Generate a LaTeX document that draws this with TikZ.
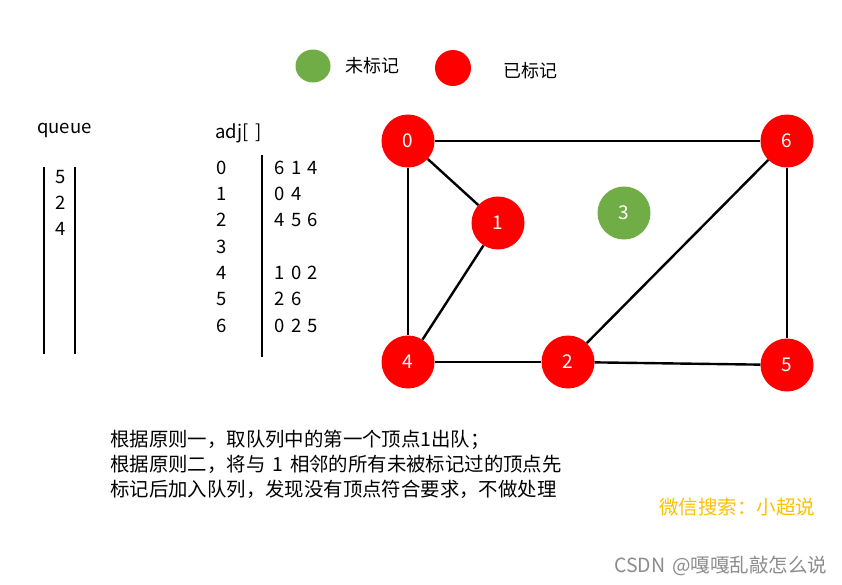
\documentclass[tikz,border=0pt]{standalone}
\usepackage{fontspec}
\usetikzlibrary{shapes.geometric}
\setmainfont{Noto Sans CJK SC}[WordSpace=1.6]
\definecolor{mred}{HTML}{FF0000}
\definecolor{mgreen}{HTML}{70AD47}
\definecolor{morange}{HTML}{FFC000}
\definecolor{mgray}{HTML}{8C8C8C}
\tikzset{
  vert/.style={circle,minimum size=53pt,inner sep=0pt,text=white,font=\fontsize{19}{20}\selectfont},
  redv/.style={vert,fill=mred},
  greenv/.style={vert,fill=mgreen},
  edge/.style={line width=2.4pt,black},
  bar/.style={line width=2.4pt,black},
  txt/.style={inner sep=0pt,anchor=west,font=\fontsize{18.5}{20}\selectfont},
}
\begin{document}
\begin{tikzpicture}[x=1pt,y=-1pt]
\useasboundingbox[fill=white] (0,0) rectangle (842,584);
% legend
\node[ellipse,fill=mgreen,minimum width=35pt,minimum height=33pt,inner sep=0pt] (lg) at (313,66) {};
\node[txt,font=\fontsize{18}{20}\selectfont] (lgt) at (345,66) {未标记};
\node[circle,fill=mred,minimum size=36pt,inner sep=0pt] (lr) at (453,68) {};
\node[txt,font=\fontsize{18}{20}\selectfont] (lrt) at (503,71) {已标记};
% queue
\node[txt] (ql) at (37,130) {queue};
\coordinate (qa1) at (44,167); \coordinate (qa2) at (44,354);
\coordinate (qb1) at (75,167); \coordinate (qb2) at (75,354);
\draw[bar] (qa1) -- (qa2);
\draw[bar] (qb1) -- (qb2);
\node[txt] (q1) at (55,177) {5};
\node[txt] (q2) at (55,203) {2};
\node[txt] (q3) at (55,229) {4};
% adj
\node[txt] (al) at (215,133) {adj[ ]};
\coordinate (av1) at (262,155); \coordinate (av2) at (262,357);
\draw[bar] (av1) -- (av2);
\foreach \i/\y/\t in {0/168/6 1 4,1/194/0 4,2/220/4 5 6,3/247/,4/273/1 0 2,5/299/2 6,6/326/0 2 5}{
  \node[txt] (ai\i) at (216,\y) {\i};
  \node[txt] (aj\i) at (274,\y) {\t};
}
% graph
\node[redv] (n0) at (408,141) {0};
\node[redv] (n6) at (787,141) {6};
\node[redv] (n1) at (498,223) {1};
\node[greenv] (n3) at (624,213) {3};
\node[redv] (n4) at (408,362) {4};
\node[redv] (n2) at (568,362) {2};
\node[redv] (n5) at (787,365) {5};
\draw[edge] (n0) -- (n6);
\draw[edge] (n0) -- (n1);
\draw[edge] (n0) -- (n4);
\draw[edge] (n1) -- (n4);
\draw[edge] (n4) -- (n2);
\draw[edge] (n2) -- (n6);
\draw[edge] (n2) -- (n5);
\draw[edge] (n6) -- (n5);
% text
\node[txt,align=left,anchor=north west,font=\fontsize{19.4}{25}\selectfont] (desc) at (110,430) {根据原则一，取队列中的第一个顶点1出队；\\根据原则二，将与 1 相邻的所有未被标记过的顶点先\\标记后加入队列，发现没有顶点符合要求，不做处理};
\node[txt,text=morange,font=\fontsize{19.5}{20}\selectfont] (wx) at (659,507) {微信搜索：小超说};
\node[txt,text=mgray,font=\fontsize{19.5}{20}\selectfont] (csdn) at (614,566) {CSDN @嘎嘎乱敲怎么说};
\end{tikzpicture}
\end{document}
